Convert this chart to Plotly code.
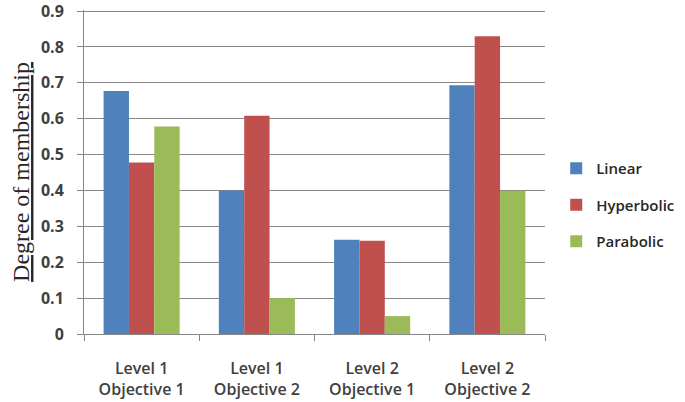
import plotly.graph_objects as go

categories = ["Level 1<br>Objective 1", "Level 1<br>Objective 2", "Level 2<br>Objective 1", "Level 2<br>Objective 2"]
linear = [0.677, 0.40, 0.263, 0.693]
hyperbolic = [0.478, 0.608, 0.26, 0.83]
parabolic = [0.578, 0.10, 0.05, 0.399]
series_names = ["Linear", "Hyperbolic", "Parabolic"]
colors = ["#4F81BD", "#C0504D", "#9BBB59"]
yticks = [0, 0.1, 0.2, 0.3, 0.4, 0.5, 0.6, 0.7, 0.8, 0.9]
ytick_text = ["0", "0.1", "0.2", "0.3", "0.4", "0.5", "0.6", "0.7", "0.8", "0.9"]

fig = go.Figure()
for name, vals, c in zip(series_names, [linear, hyperbolic, parabolic], colors):
    fig.add_trace(go.Bar(x=categories, y=vals, name=name, legendgroup=name,
                         marker=dict(color=c, line=dict(width=0))))

fig.update_layout(
    width=685, height=402,
    margin=dict(l=84, r=140, t=10, b=68),
    paper_bgcolor="white", plot_bgcolor="white",
    barmode="group", bargap=0.34, bargroupgap=0,
    showlegend=True,
    legend=dict(xref="container", yref="container", x=0.812, y=0.49,
                xanchor="left", yanchor="middle",
                font=dict(family="Open Sans", size=15, color="#262626", weight=600),
                tracegroupgap=14, itemwidth=30),
)
fig.update_xaxes(
    type="category", tickson="boundaries", ticks="outside", ticklen=6, tickcolor="#868686",
    showline=True, linecolor="#868686", linewidth=1, showgrid=False, automargin=False,
    ticklabelstandoff=20,
    tickfont=dict(family="Open Sans", size=16, color="#404040", weight=600),
)
fig.update_yaxes(
    range=[0, 0.903], tickvals=yticks, ticktext=ytick_text,
    ticks="outside", ticklen=6, tickcolor="#868686", automargin=False,
    ticklabelstandoff=10, ticklabeloverflow="allow",
    showline=True, linecolor="#868686", linewidth=1,
    showgrid=True, gridcolor="#868686", gridwidth=1, zeroline=False,
    tickfont=dict(family="Open Sans", size=16, color="#404040", weight="bold"),
    title=dict(text="<u>Degree of membership</u>", font=dict(family="Liberation Serif", size=24, color="#262626"), standoff=4),
)
fig.write_html("out.html", post_script="document.body.style.margin='0';",
               config={"displayModeBar": False})
